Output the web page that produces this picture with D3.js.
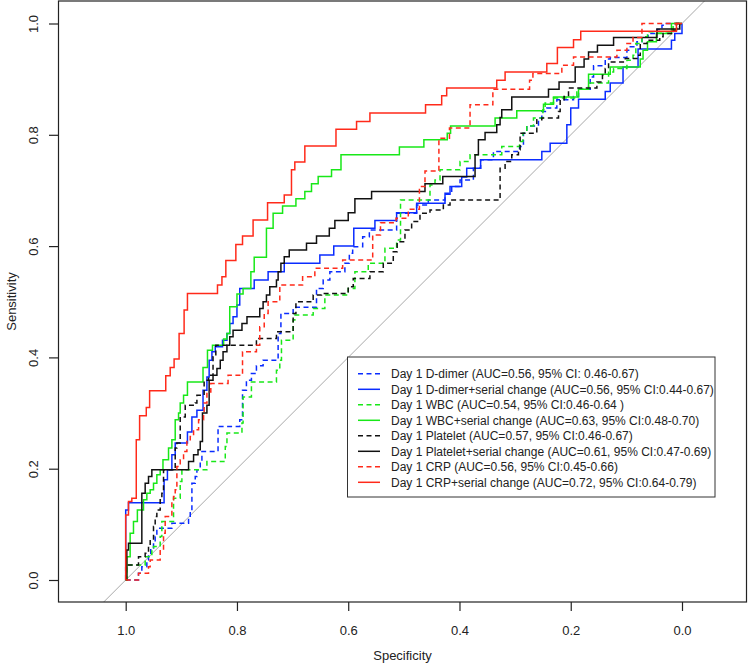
<!DOCTYPE html>
<html><head><meta charset="utf-8">
<script src="https://cdn.jsdelivr.net/npm/d3@7"></script>
<style>body{margin:0;background:#fff} svg{display:block;font-family:"Liberation Sans",Arial,sans-serif}</style>
</head><body><svg id="chart" width="750" height="665"></svg>
<script>
// ---- data: [specificity, sensitivity] at each step corner ----
const ddimer = [[1,0],[0.977,0.012],[0.971,0.024],[0.962,0.036],[0.959,0.048],[0.955,0.057],[0.950,0.066],[0.947,0.078],[0.944,0.093],[0.917,0.102],[0.887,0.111],[0.884,0.123],[0.881,0.174],[0.875,0.186],[0.872,0.198],[0.866,0.213],[0.863,0.231],[0.834,0.276],[0.795,0.288],[0.790,0.341],[0.783,0.359],[0.774,0.371],[0.765,0.385],[0.753,0.395],[0.726,0.443],[0.721,0.479],[0.699,0.490],[0.657,0.524],[0.645,0.539],[0.633,0.554],[0.606,0.569],[0.598,0.587],[0.592,0.599],[0.574,0.617],[0.562,0.629],[0.513,0.659],[0.477,0.674],[0.456,0.683],[0.426,0.695],[0.414,0.707],[0.399,0.719],[0.375,0.740],[0.362,0.755],[0.339,0.770],[0.292,0.779],[0.285,0.803],[0.279,0.816],[0.258,0.830],[0.252,0.842],[0.243,0.848],[0.225,0.863],[0.195,0.869],[0.186,0.882],[0.165,0.904],[0.159,0.924],[0.138,0.936],[0.129,0.939],[0.099,0.952],[0.093,0.958],[0.081,0.967],[0.072,0.976],[0.061,0.982],[0.045,0.989],[0.036,0.997],[0.028,1.0],[0,1]];
const ddimerSerial = [[1,0],[1.0,0.126],[0.995,0.139],[0.931,0.180],[0.925,0.198],[0.917,0.225],[0.911,0.246],[0.889,0.266],[0.881,0.293],[0.872,0.305],[0.861,0.341],[0.854,0.365],[0.850,0.395],[0.845,0.410],[0.839,0.419],[0.826,0.431],[0.818,0.443],[0.813,0.461],[0.807,0.473],[0.800,0.494],[0.795,0.524],[0.769,0.539],[0.744,0.554],[0.715,0.569],[0.651,0.584],[0.626,0.600],[0.590,0.632],[0.552,0.646],[0.513,0.660],[0.477,0.677],[0.426,0.693],[0.417,0.707],[0.396,0.724],[0.387,0.740],[0.362,0.755],[0.252,0.770],[0.237,0.785],[0.207,0.818],[0.200,0.848],[0.186,0.864],[0.138,0.878],[0.129,0.893],[0.106,0.922],[0.079,0.954],[0.019,0.970],[0.013,0.982],[0,1]];
const wbc = [[1,0],[0.998,0.027],[0.965,0.042],[0.953,0.054],[0.950,0.060],[0.938,0.078],[0.935,0.105],[0.914,0.147],[0.902,0.177],[0.899,0.198],[0.854,0.213],[0.821,0.240],[0.818,0.264],[0.791,0.282],[0.789,0.329],[0.774,0.356],[0.729,0.377],[0.723,0.395],[0.720,0.431],[0.699,0.467],[0.696,0.476],[0.663,0.488],[0.642,0.512],[0.600,0.524],[0.588,0.554],[0.564,0.569],[0.534,0.596],[0.513,0.611],[0.506,0.683],[0.453,0.710],[0.444,0.719],[0.435,0.737],[0.399,0.752],[0.381,0.764],[0.324,0.779],[0.292,0.788],[0.286,0.803],[0.279,0.816],[0.267,0.830],[0.250,0.845],[0.246,0.857],[0.231,0.866],[0.189,0.882],[0.168,0.893],[0.132,0.913],[0.123,0.919],[0.099,0.934],[0.088,0.943],[0.083,0.964],[0.072,0.976],[0.062,0.985],[0.016,1.0],[0,1]];
const wbcSerial = [[1,0],[0.998,0.042],[0.992,0.084],[0.986,0.105],[0.979,0.126],[0.968,0.144],[0.962,0.156],[0.956,0.162],[0.950,0.174],[0.944,0.189],[0.938,0.198],[0.933,0.216],[0.923,0.237],[0.917,0.252],[0.911,0.288],[0.905,0.300],[0.902,0.318],[0.896,0.332],[0.889,0.356],[0.861,0.382],[0.853,0.413],[0.844,0.422],[0.824,0.433],[0.818,0.443],[0.813,0.491],[0.800,0.514],[0.789,0.524],[0.775,0.554],[0.769,0.580],[0.747,0.632],[0.735,0.659],[0.718,0.672],[0.694,0.685],[0.678,0.698],[0.666,0.712],[0.654,0.725],[0.630,0.737],[0.613,0.764],[0.508,0.778],[0.464,0.791],[0.422,0.803],[0.416,0.816],[0.336,0.830],[0.297,0.843],[0.249,0.855],[0.231,0.868],[0.186,0.882],[0.168,0.909],[0.129,0.922],[0.075,0.936],[0.070,0.952],[0.062,0.967],[0.046,0.982],[0.019,1.0],[0,1]];
const platelet = [[1,0],[1.0,0.027],[0.977,0.042],[0.965,0.048],[0.959,0.060],[0.956,0.072],[0.950,0.096],[0.947,0.114],[0.944,0.126],[0.938,0.144],[0.935,0.156],[0.932,0.198],[0.911,0.237],[0.908,0.246],[0.902,0.293],[0.893,0.314],[0.875,0.318],[0.872,0.332],[0.859,0.359],[0.851,0.368],[0.843,0.401],[0.838,0.422],[0.765,0.434],[0.729,0.446],[0.699,0.479],[0.694,0.500],[0.663,0.512],[0.648,0.515],[0.600,0.527],[0.591,0.542],[0.561,0.554],[0.537,0.569],[0.519,0.590],[0.512,0.608],[0.498,0.629],[0.486,0.644],[0.471,0.659],[0.453,0.665],[0.429,0.674],[0.417,0.683],[0.327,0.740],[0.318,0.752],[0.306,0.764],[0.294,0.773],[0.291,0.803],[0.261,0.827],[0.252,0.830],[0.222,0.842],[0.219,0.863],[0.212,0.869],[0.204,0.884],[0.153,0.895],[0.143,0.907],[0.138,0.919],[0.132,0.931],[0.102,0.937],[0.081,0.943],[0.075,0.964],[0.063,0.970],[0.040,0.976],[0.034,0.982],[0.019,0.988],[0.010,1.0],[0,1]];
const plateletSerial = [[1,0],[0.998,0.054],[0.995,0.066],[0.971,0.156],[0.965,0.174],[0.959,0.186],[0.953,0.198],[0.887,0.213],[0.878,0.225],[0.870,0.234],[0.866,0.249],[0.862,0.300],[0.854,0.314],[0.850,0.359],[0.843,0.368],[0.836,0.380],[0.830,0.395],[0.825,0.410],[0.818,0.422],[0.813,0.437],[0.807,0.449],[0.791,0.461],[0.782,0.473],[0.759,0.488],[0.753,0.500],[0.747,0.512],[0.741,0.527],[0.729,0.539],[0.726,0.554],[0.721,0.569],[0.715,0.581],[0.706,0.593],[0.675,0.605],[0.657,0.618],[0.634,0.632],[0.624,0.646],[0.600,0.660],[0.588,0.685],[0.558,0.698],[0.462,0.712],[0.430,0.725],[0.372,0.764],[0.366,0.791],[0.354,0.804],[0.333,0.818],[0.327,0.831],[0.324,0.845],[0.306,0.868],[0.240,0.882],[0.221,0.895],[0.192,0.922],[0.176,0.936],[0.168,0.949],[0.152,0.961],[0.123,0.975],[0.045,0.990],[0.004,1.0],[0,1]];
const crp = [[1,0],[0.977,0.012],[0.959,0.024],[0.956,0.036],[0.938,0.054],[0.932,0.084],[0.929,0.114],[0.917,0.144],[0.914,0.150],[0.911,0.162],[0.908,0.204],[0.902,0.216],[0.896,0.231],[0.890,0.252],[0.884,0.258],[0.878,0.270],[0.869,0.288],[0.860,0.300],[0.859,0.318],[0.854,0.338],[0.847,0.353],[0.816,0.368],[0.790,0.410],[0.765,0.422],[0.759,0.455],[0.751,0.479],[0.744,0.500],[0.723,0.530],[0.682,0.545],[0.660,0.560],[0.610,0.575],[0.556,0.620],[0.542,0.642],[0.514,0.650],[0.492,0.666],[0.472,0.707],[0.462,0.735],[0.437,0.794],[0.418,0.812],[0.381,0.854],[0.340,0.882],[0.274,0.898],[0.268,0.910],[0.216,0.925],[0.195,0.940],[0.117,0.952],[0.099,0.964],[0.088,0.975],[0.072,1.0],[0,1]];
const crpSerial = [[1,0],[1.0,0.117],[0.995,0.141],[0.989,0.147],[0.981,0.252],[0.975,0.295],[0.963,0.310],[0.957,0.340],[0.928,0.367],[0.920,0.382],[0.913,0.397],[0.904,0.443],[0.895,0.485],[0.889,0.515],[0.835,0.530],[0.827,0.545],[0.820,0.574],[0.802,0.603],[0.790,0.618],[0.771,0.647],[0.745,0.678],[0.715,0.692],[0.702,0.737],[0.696,0.751],[0.678,0.780],[0.622,0.810],[0.585,0.824],[0.561,0.839],[0.461,0.854],[0.432,0.870],[0.423,0.884],[0.333,0.898],[0.318,0.913],[0.243,0.928],[0.224,0.957],[0.195,0.971],[0.182,0.986],[0.010,1.0],[0,1]];

const legendLabels = [
  "Day 1 D-dimer (AUC=0.56, 95% CI: 0.46-0.67)",
  "Day 1 D-dimer+serial change (AUC=0.56, 95% CI:0.44-0.67)",
  "Day 1 WBC (AUC=0.54, 95% CI:0.46-0.64 )",
  "Day 1 WBC+serial change (AUC=0.63, 95% CI:0.48-0.70)",
  "Day 1 Platelet (AUC=0.57, 95% CI:0.46-0.67)",
  "Day 1 Platelet+serial change (AUC=0.61, 95% CI:0.47-0.69)",
  "Day 1 CRP (AUC=0.56, 95% CI:0.45-0.66)",
  "Day 1 CRP+serial change (AUC=0.72, 95% CI:0.64-0.79)"
];
const seriesData = [ddimer, ddimerSerial, wbc, wbcSerial, platelet, plateletSerial, crp, crpSerial];
const xTicks = [1.0, 0.8, 0.6, 0.4, 0.2, 0.0];
const yTicks = [0.0, 0.2, 0.4, 0.6, 0.8, 1.0];
const xTitle = "Specificity", yTitle = "Sensitivity";

// ---- styles ----
const colors = ["#0a2cff","#0a2cff","#18e818","#18e818","#111111","#111111","#ff2a1a","#ff2a1a"];
const dashed = [true,false,true,false,true,false,true,false];

const svg = d3.select("#chart");
const box = {left:58.5, right:746.5, top:1, bottom:602};
const x = d3.scaleLinear().domain([1,0]).range([125.7,682]);
const y = d3.scaleLinear().domain([0,1]).range([580,23.5]);

svg.append("defs").append("clipPath").attr("id","clip").append("rect")
  .attr("x",box.left).attr("y",box.top).attr("width",box.right-box.left).attr("height",box.bottom-box.top);

// diagonal reference
svg.append("line").attr("clip-path","url(#clip)")
  .attr("x1",x(1.2)).attr("y1",y(-0.2)).attr("x2",x(-0.2)).attr("y2",y(1.2))
  .attr("stroke","#a8a8a8").attr("stroke-width",1);

const line = d3.line().x(d=>x(d[0])).y(d=>y(d[1])).curve(d3.curveStepAfter);
const g = svg.append("g").attr("clip-path","url(#clip)");
seriesData.forEach((s,i)=>{
  g.append("path").attr("d",line(s)).attr("fill","none")
   .attr("stroke",colors[i]).attr("stroke-width",1.5)
   .attr("stroke-dasharray",dashed[i]?"5,3.5":null);
});

// box
svg.append("rect").attr("x",box.left).attr("y",box.top).attr("width",box.right-box.left).attr("height",box.bottom-box.top)
  .attr("fill","none").attr("stroke","#222").attr("stroke-width",1.2);

// axes
const xa = svg.append("g").attr("transform",`translate(0,${box.bottom})`)
  .call(d3.axisBottom(x).tickValues(xTicks).tickFormat(d3.format(".1f")).tickSize(9).tickPadding(15));
const ya = svg.append("g").attr("transform",`translate(${box.left},0)`)
  .call(d3.axisLeft(y).tickValues(yTicks).tickFormat(d3.format(".1f")).tickSize(9.5));
[xa,ya].forEach(a=>{
  a.select(".domain").remove();
  a.selectAll(".tick line").attr("stroke","#222").attr("stroke-width",1.2);
  a.selectAll("text").attr("font-size",13).attr("fill","#222").attr("font-family","Liberation Sans, Arial, sans-serif");
});
ya.selectAll("text").attr("x",0).attr("y",-21).attr("dy",0).attr("text-anchor","middle").attr("transform","rotate(-90)");

svg.append("text").attr("x",(box.left+box.right)/2).attr("y",660).attr("text-anchor","middle")
  .attr("font-size",13).attr("fill","#222").text(xTitle);
svg.append("text").attr("transform",`translate(16,${(box.top+box.bottom)/2}) rotate(-90)`).attr("text-anchor","middle")
  .attr("font-size",13).attr("fill","#222").text(yTitle);

// legend
const lg = svg.append("g");
lg.append("rect").attr("x",347.5).attr("y",357).attr("width",367.5).attr("height",140)
  .attr("fill","#fff").attr("stroke","#333").attr("stroke-width",1);
legendLabels.forEach((t,i)=>{
  const cy = 373.8 + i*15.5;
  lg.append("line").attr("x1",358).attr("x2",380).attr("y1",cy).attr("y2",cy)
    .attr("stroke",colors[i]).attr("stroke-width",1.5).attr("stroke-dasharray",dashed[i]?"5,3.5":null);
  lg.append("text").attr("x",391).attr("y",cy).attr("dy","0.35em").attr("font-size",12).attr("fill","#222").text(t);
});
</script></body></html>
